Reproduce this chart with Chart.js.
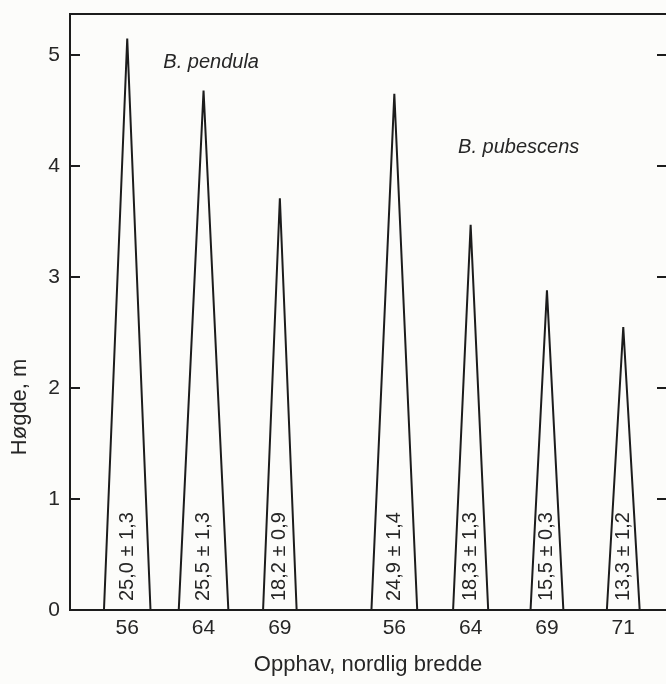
<!DOCTYPE html>
<html lang="no">
<head>
<meta charset="utf-8">
<title>Høgde etter opphav</title>
<script src="https://cdn.jsdelivr.net/npm/chart.js@4/dist/chart.umd.min.js"></script>
<style>
  html, body { margin: 0; padding: 0; background: #fcfcfa; }
  #wrap { position: relative; width: 666px; height: 684px; }
</style>
</head>
<body>
<div id="wrap"><canvas id="chart"></canvas></div>
<script>
'use strict';

// ************************** DATA ****************************************** //
// B. pendula, origin (degrees north), tree height (m), base width (slot units)
let pendulaLat = ['56', '64', '69'];
let pendulaHeight = [5.15, 4.68, 3.71];
let pendulaBase = [0.61, 0.65, 0.44];
let pendulaLabel = ['25,0 ± 1,3', '25,5 ± 1,3', '18,2 ± 0,9'];

// B. pubescens
let pubescensLat = ['56', '64', '69', '71'];
let pubescensHeight = [4.65, 3.47, 2.88, 2.55];
let pubescensBase = [0.60, 0.46, 0.43, 0.43];
let pubescensLabel = ['24,9 ± 1,4', '18,3 ± 1,3', '15,5 ± 0,3', '13,3 ± 1,2'];

let yTicks = [0, 1, 2, 3, 4, 5];
let speciesNames = ['B. pendula', 'B. pubescens'];
let xTitle = 'Opphav, nordlig bredde';
let yTitle = 'Høgde, m';

// ************************** LAYOUT / STYLE ******************************** //
let groupGap = 1.5;
let lineColor = '#1c1c1c';
let textColor = '#262626';
let fontFamily = '"Liberation Sans", Arial, Helvetica, sans-serif';
let speciesSpot = [{ x: 1.1, y: 4.93 }, { x: 5.13, y: 4.17 }];

// ************************** BUILD TREES *********************************** //
let groups = [
  { lat: pendulaLat, height: pendulaHeight, base: pendulaBase, label: pendulaLabel },
  { lat: pubescensLat, height: pubescensHeight, base: pubescensBase, label: pubescensLabel }
];

let trees = [];
let slot = 0;
for (let g = 0; g < groups.length; g++) {
  if (g > 0) {
    slot += groupGap - 1;
  }
  for (let i = 0; i < groups[g].lat.length; i++) {
    trees.push({
      slot: slot,
      lat: groups[g].lat[i],
      height: groups[g].height[i],
      half: groups[g].base[i] / 2,
      label: groups[g].label[i]
    });
    slot++;
  }
}

let datasets = trees.map(function (t) {
  return {
    data: [
      { x: t.slot - t.half, y: 0 },
      { x: t.slot, y: t.height },
      { x: t.slot + t.half, y: 0 }
    ],
    showLine: true,
    borderColor: lineColor,
    borderWidth: 2,
    pointRadius: 0,
    fill: false,
    tension: 0
  };
});

// ************************** DECORATION PLUGIN ***************************** //
let decorPlugin = {
  id: 'decor',
  afterDraw(chart) {
    let ctx = chart.ctx;
    let area = chart.chartArea;
    let xs = chart.scales.x;
    let ys = chart.scales.y;

    ctx.save();
    ctx.strokeStyle = lineColor;
    ctx.lineWidth = 2;
    ctx.beginPath();
    ctx.moveTo(area.left, area.top);
    ctx.lineTo(area.right, area.top);
    for (let i = 0; i < yTicks.length; i++) {
      if (yTicks[i] === 0) continue;
      let py = ys.getPixelForValue(yTicks[i]);
      ctx.moveTo(area.left, py);
      ctx.lineTo(area.left + 10, py);
      ctx.moveTo(area.right, py);
      ctx.lineTo(area.right - 9, py);
    }
    ctx.stroke();

    // values inside each tree
    ctx.fillStyle = textColor;
    ctx.font = '20px ' + fontFamily;
    ctx.textAlign = 'left';
    ctx.textBaseline = 'middle';
    for (let i = 0; i < trees.length; i++) {
      ctx.save();
      ctx.translate(xs.getPixelForValue(trees[i].slot), ys.getPixelForValue(0) - 9);
      ctx.rotate(-Math.PI / 2);
      ctx.fillText(trees[i].label, 0, 0);
      ctx.restore();
    }

    // species names
    ctx.font = 'italic 20px ' + fontFamily;
    ctx.textAlign = 'center';
    for (let i = 0; i < speciesNames.length; i++) {
      ctx.fillText(speciesNames[i],
        xs.getPixelForValue(speciesSpot[i].x),
        ys.getPixelForValue(speciesSpot[i].y));
    }

    // y axis title
    ctx.font = '22px ' + fontFamily;
    ctx.save();
    ctx.translate(area.left - 50, ys.getPixelForValue(1.83));
    ctx.rotate(-Math.PI / 2);
    ctx.fillText(yTitle, 0, 0);
    ctx.restore();

    ctx.restore();
  }
};

// ************************** CHART ***************************************** //
let chartObj = {
  type: 'scatter',
  data: { datasets: datasets },
  plugins: [decorPlugin],
  options: {
    responsive: true,
    maintainAspectRatio: false,
    animation: false,
    layout: { padding: { top: 14, right: 0, left: 0, bottom: 0 } },
    plugins: {
      legend: { display: false },
      tooltip: { enabled: false }
    },
    scales: {
      x: {
        type: 'linear',
        min: -0.75,
        max: 7.06,
        afterFit: function (scale) {
          scale.height = 74;
          scale.paddingLeft = 0;
          scale.paddingRight = 0;
        },
        afterBuildTicks: function (scale) {
          scale.ticks = trees.map(function (t) { return { value: t.slot }; });
        },
        ticks: {
          autoSkip: false,
          maxRotation: 0,
          padding: 6,
          color: textColor,
          font: { size: 21, family: fontFamily },
          callback: function (value, index) { return trees[index].lat; }
        },
        grid: { drawOnChartArea: false, drawTicks: false },
        border: { display: true, color: lineColor, width: 2 },
        title: {
          display: true,
          text: xTitle,
          color: textColor,
          font: { size: 22, family: fontFamily },
          padding: { top: 0, bottom: 6 }
        }
      },
      y: {
        min: 0,
        max: 5.37,
        afterFit: function (scale) {
          scale.width = 70;
          scale.paddingTop = 0;
          scale.paddingBottom = 0;
        },
        afterBuildTicks: function (scale) {
          scale.ticks = yTicks.map(function (v) { return { value: v }; });
        },
        ticks: {
          padding: 10,
          color: textColor,
          font: { size: 21, family: fontFamily }
        },
        grid: { drawOnChartArea: false, drawTicks: false },
        border: { display: true, color: lineColor, width: 2 }
      }
    }
  }
};

new Chart(document.getElementById('chart'), chartObj);
</script>
</body>
</html>
